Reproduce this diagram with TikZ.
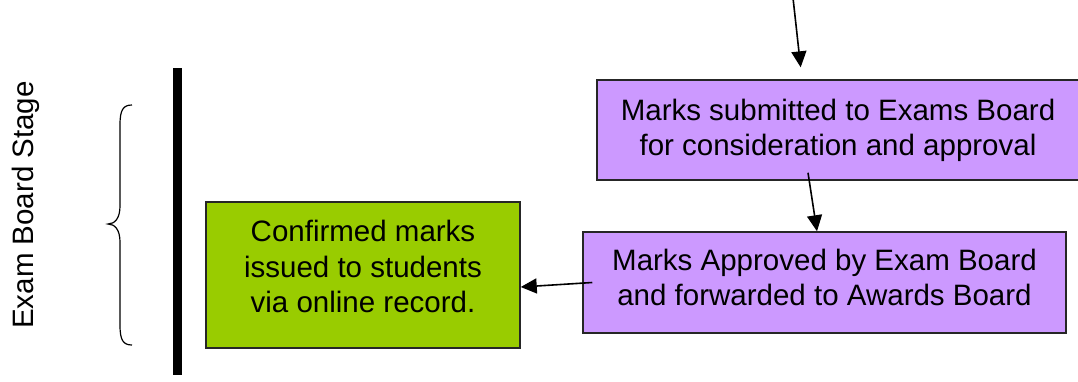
\documentclass[tikz,border=0pt]{standalone}
\usepackage{fontspec}
\setmainfont{Liberation Sans}
\usetikzlibrary{arrows.meta}
\definecolor{boxpurple}{HTML}{CC99FF}
\definecolor{boxgreen}{HTML}{99CC00}
\newcommand{\liftlines}[2]{\raisebox{0pt}[\height][\dimexpr\depth+#1\relax]{\begin{tabular}{@{}c@{}}#2\end{tabular}}}
\begin{document}
\begin{tikzpicture}[x=1pt,y=-1pt,
  box/.style={draw=black!85,line width=1.5pt,inner sep=0pt,
    font=\fontsize{29.5}{35.5}\selectfont},
  arr/.style={line width=1.6pt,-{Triangle[length=16pt,width=15pt]}}]
\useasboundingbox (0,0) rectangle (1078,381);
\node[rotate=90,font=\fontsize{29.5}{33}\selectfont] (stage) at (25.5,205) {Exam Board Stage};
\draw[line width=1.2pt] (132,105) .. controls (123,105) and (120,110) .. (120,125) -- (120,206)
  .. controls (120,218) and (115,224) .. (108,224)
  .. controls (115,224) and (120,230) .. (120,242) -- (120,325)
  .. controls (120,340) and (123,345) .. (132,345);
\draw[line width=8.5pt] (177.5,68) -- (177.5,375);
\node[box,fill=boxgreen,minimum width=314pt,minimum height=146pt] (green) at (363,275)
  {\liftlines{10pt}{Confirmed marks\\issued to students\\via online record.}};
\node[box,fill=boxpurple,minimum width=482pt,minimum height=100pt] (top) at (838,130)
  {\liftlines{-1.3pt}{Marks submitted to Exams Board\\for consideration and approval}};
\node[box,fill=boxpurple,minimum width=483pt,minimum height=101pt] (bot) at (824.5,282.5)
  {\liftlines{3.7pt}{Marks Approved by Exam Board\\and forwarded to Awards Board}};
\coordinate (in) at (793,-2);
\draw[arr,shorten >=12pt] (in) -- ([xshift=-36pt]top.north);
\draw[arr] ([xshift=-30pt,yshift=8pt]top.south) -- ([xshift=-7.5pt]bot.north);
\draw[arr] ([xshift=10pt]bot.west) -- ([yshift=-12pt]green.east);
\end{tikzpicture}
\end{document}
